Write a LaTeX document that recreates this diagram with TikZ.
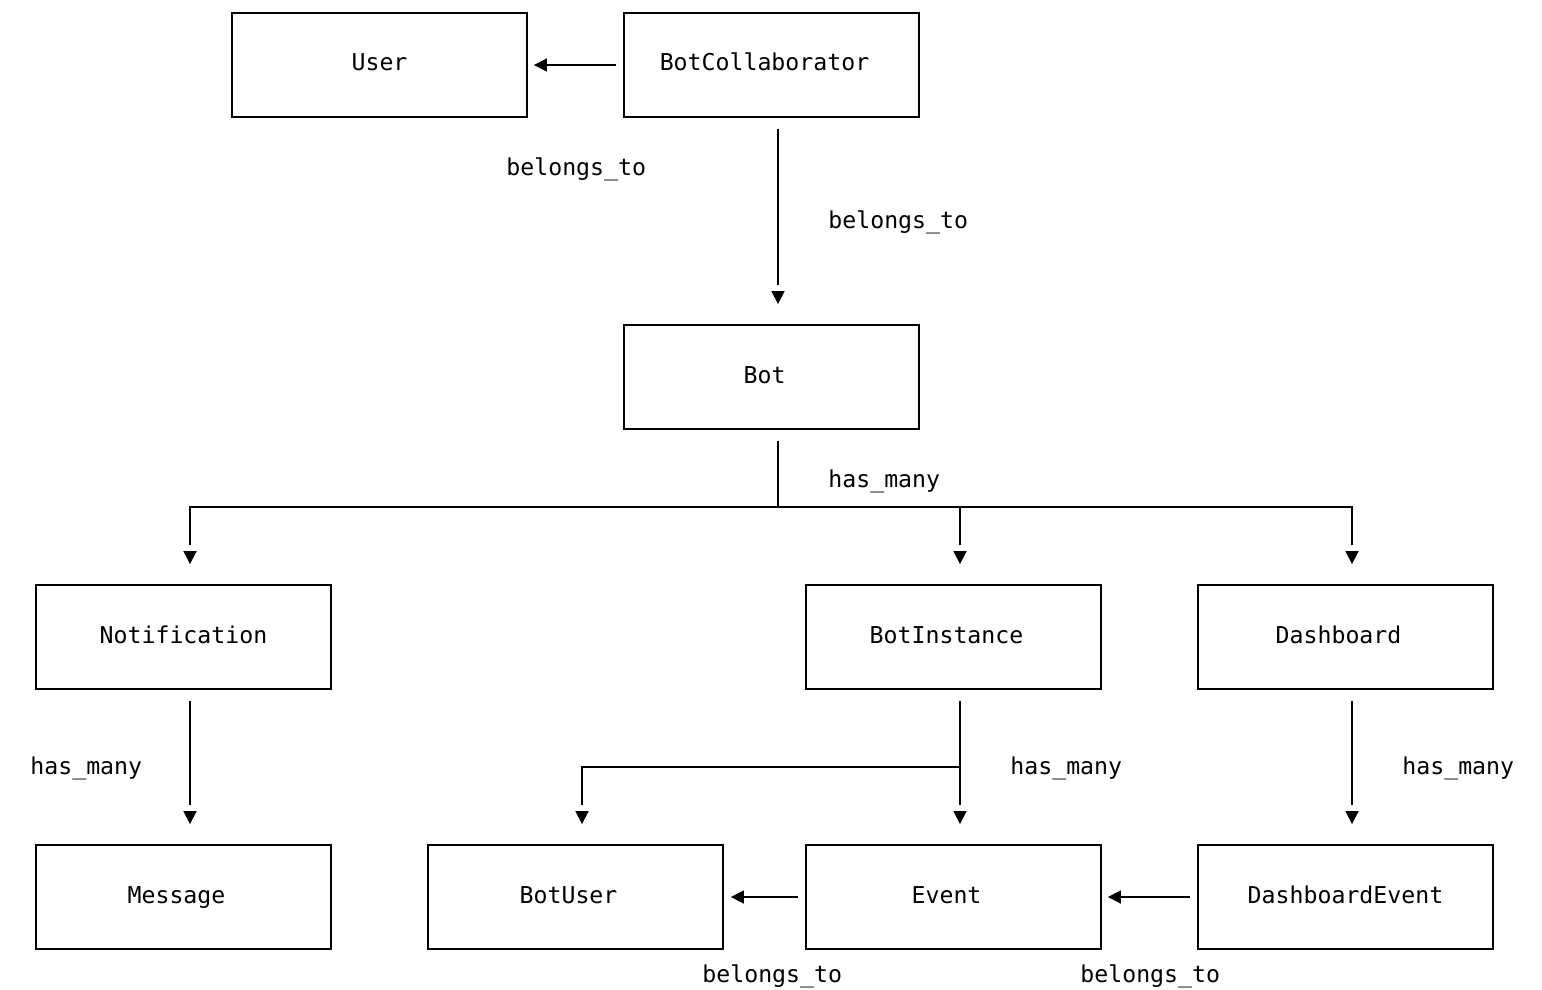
\documentclass[tikz,border=0pt]{standalone}
\usepackage{fontspec}
\setmonofont{DejaVu Sans Mono}
\usepackage{tikz}
\usetikzlibrary{arrows.meta}

\tikzset{
    model/.style={draw, line width=0.9pt, minimum width=147.5pt, minimum height=52pt, inner sep=0pt, text height=8.5pt, text depth=2.5pt, font=\ttfamily\fontsize{11.6}{14}\selectfont},
    rel/.style={anchor=base west, inner sep=0pt, font=\ttfamily\fontsize{11.6}{14}\selectfont},
    link/.style={line width=0.8pt},
    head/.style={line width=0.8pt, -{Triangle[length=6.5pt, width=6.5pt]}},
}

\begin{document}
\begin{tikzpicture}[x=0.5pt, y=-0.5pt]
    \useasboundingbox (0,0) rectangle (1542,990);

    \node[model] (user) at (379.5,65) {User};
    \node[model] (collab) at (771.5,65) {BotCollaborator\phantom{x}};
    \node[model] (bot) at (771.5,377) {Bot\phantom{x}};
    \node[model] (notif) at (183.5,637) {Notification};
    \node[model] (inst) at (953.5,637) {BotInstance\phantom{x}};
    \node[model] (dash) at (1345.5,637) {Dashboard\phantom{x}};
    \node[model] (msg) at (183.5,897) {Message\phantom{x}};
    \node[model] (botuser) at (575.5,897) {BotUser\phantom{x}};
    \node[model] (event) at (953.5,897) {Event\phantom{x}};
    \node[model] (dashevent) at (1345.5,897) {DashboardEvent};

    \coordinate (hub) at (778,507);
    \coordinate (fork) at (960,767);

    % belongs_to
    \draw[head] ([xshift=-3.5pt]collab.west) -- ([xshift=3pt]user.east);
    \draw[link] ([xshift=3.25pt, yshift=-5.5pt]collab.south) -- ([xshift=3.25pt, yshift=19.5pt]bot.north);
    \draw[head] ([xshift=3.25pt, yshift=16.5pt]bot.north) -- ([xshift=3.25pt, yshift=10pt]bot.north);
    \draw[head] ([xshift=-3.5pt]event.west) -- ([xshift=3.5pt]botuser.east);
    \draw[head] ([xshift=-3.5pt]dashevent.west) -- ([xshift=3pt]event.east);

    % has_many from Bot
    \draw[link] ([xshift=3.25pt, yshift=-5.5pt]bot.south) -- (hub);
    \draw[link] ([xshift=3.25pt, yshift=19.5pt]notif.north) |- (hub) -| ([xshift=3.25pt, yshift=19.5pt]dash.north);
    \draw[link] ([xshift=3.25pt, yshift=19.5pt]inst.north) |- (hub);
    \draw[head] ([xshift=3.25pt, yshift=16.5pt]notif.north) -- ([xshift=3.25pt, yshift=10pt]notif.north);
    \draw[head] ([xshift=3.25pt, yshift=16.5pt]inst.north) -- ([xshift=3.25pt, yshift=10pt]inst.north);
    \draw[head] ([xshift=3.25pt, yshift=16.5pt]dash.north) -- ([xshift=3.25pt, yshift=10pt]dash.north);

    % has_many, lower row
    \draw[link] ([xshift=3.25pt, yshift=-5.5pt]notif.south) -- ([xshift=3.25pt, yshift=19.5pt]msg.north);
    \draw[head] ([xshift=3.25pt, yshift=16.5pt]msg.north) -- ([xshift=3.25pt, yshift=10pt]msg.north);
    \draw[link] ([xshift=3.25pt, yshift=-5.5pt]inst.south) -- ([xshift=3.25pt, yshift=19.5pt]event.north);
    \draw[link] (fork) -| ([xshift=3.25pt, yshift=19.5pt]botuser.north);
    \draw[head] ([xshift=3.25pt, yshift=16.5pt]event.north) -- ([xshift=3.25pt, yshift=10pt]event.north);
    \draw[head] ([xshift=3.25pt, yshift=16.5pt]botuser.north) -- ([xshift=3.25pt, yshift=10pt]botuser.north);
    \draw[link] ([xshift=3.25pt, yshift=-5.5pt]dash.south) -- ([xshift=3.25pt, yshift=19.5pt]dashevent.north);
    \draw[head] ([xshift=3.25pt, yshift=16.5pt]dashevent.north) -- ([xshift=3.25pt, yshift=10pt]dashevent.north);

    % labels
    \node[rel] (l1) at (506,176) {belongs\_to};
    \node[rel] (l2) at (828,228) {belongs\_to};
    \node[rel] (l3) at (828,487) {has\_many};
    \node[rel] (l4) at (30,774) {has\_many};
    \node[rel] (l5) at (1010,774) {has\_many};
    \node[rel] (l6) at (1402,774) {has\_many};
    \node[rel] (l7) at (702,982) {belongs\_to};
    \node[rel] (l8) at (1080,982) {belongs\_to};
\end{tikzpicture}
\end{document}
